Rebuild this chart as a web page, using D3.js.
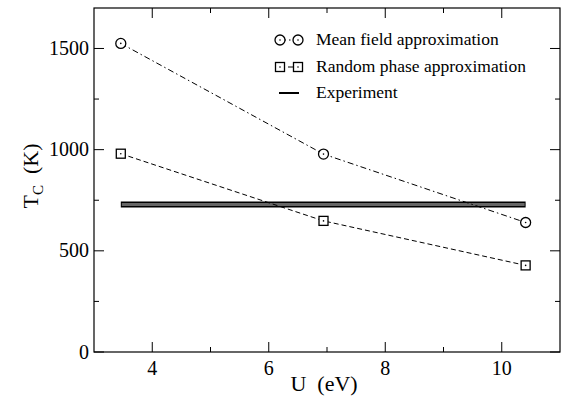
<!DOCTYPE html>
<html>
<head>
<meta charset="utf-8">
<script src="https://cdn.jsdelivr.net/npm/d3@7"></script>
<style>
  body { margin: 0; background: #fff; }
  svg text { white-space: pre; }
</style>
</head>
<body>
<svg width="562" height="398" font-family="'Liberation Serif', 'Times New Roman', Times, serif"></svg>
<script>
// data
var uValues = [3.46, 6.94, 10.41];
var meanField = [1525, 978, 640];
var randomPhase = [980, 648, 428];
var experiment = 729;
var xTicks = [4, 6, 8, 10];
var yTicks = [0, 500, 1000, 1500];

var svg = d3.select("svg"),
    margin = {left: 94, right: 2, top: 8, bottom: 46},
    width = +svg.attr("width") - margin.left - margin.right,
    height = +svg.attr("height") - margin.top - margin.bottom;

var x = d3.scaleLinear().domain([3, 11]).range([0, width]);
var y = d3.scaleLinear().domain([0, 1700]).range([height, 0]);

var g = svg.append("g").attr("transform", "translate(" + margin.left + "," + margin.top + ")");

// frame
g.append("rect")
    .attr("width", width).attr("height", height)
    .attr("fill", "none").attr("stroke", "#000").attr("stroke-width", 1.2);

// ticks, all pointing inward
function ticks(scale, majors, minors, side) {
  var t = g.append("g").attr("stroke", "#000").attr("stroke-width", 1);
  majors.forEach(function(v) { drawTick(t, scale(v), 10, side); });
  minors.forEach(function(v) { drawTick(t, scale(v), 5, side); });
}
function drawTick(t, p, len, side) {
  if (side == "bottom") t.append("line").attr("x1", p).attr("x2", p).attr("y1", height).attr("y2", height - len);
  if (side == "top") t.append("line").attr("x1", p).attr("x2", p).attr("y1", 0).attr("y2", len);
  if (side == "left") t.append("line").attr("y1", p).attr("y2", p).attr("x1", 0).attr("x2", len);
  if (side == "right") t.append("line").attr("y1", p).attr("y2", p).attr("x1", width).attr("x2", width - len);
}
ticks(x, xTicks, [5, 7, 9], "bottom");
ticks(x, xTicks, [5, 7, 9], "top");
ticks(y, yTicks, [250, 750, 1250], "left");
ticks(y, yTicks, [250, 750, 1250], "right");

g.selectAll(".xl").data(xTicks).enter().append("text")
    .attr("x", function(d) { return x(d); })
    .attr("y", height + 23)
    .attr("text-anchor", "middle")
    .style("font-size", "20px")
    .text(function(d) { return d; });

g.selectAll(".yl").data(yTicks).enter().append("text")
    .attr("x", -5)
    .attr("y", function(d) { return y(d) + 6.5; })
    .attr("text-anchor", "end")
    .style("font-size", "20px")
    .text(function(d) { return d; });

// axis titles
svg.append("text")
    .attr("x", margin.left + x(6.95)).attr("y", 391)
    .attr("text-anchor", "middle")
    .style("font-size", "22px")
    .text("U  (eV)");

var yt = svg.append("text")
    .attr("transform", "translate(38,176) rotate(-90)")
    .attr("text-anchor", "middle")
    .style("font-size", "22px");
yt.append("tspan").text("T");
yt.append("tspan").attr("dy", 5).style("font-size", "15px").text("C");
yt.append("tspan").attr("dy", -5).text("  (K)");

// experiment band
g.append("line")
    .attr("x1", x(uValues[0])).attr("x2", x(uValues[2]))
    .attr("y1", y(experiment)).attr("y2", y(experiment))
    .attr("stroke", "#000").attr("stroke-width", 6);
g.append("line")
    .attr("x1", x(uValues[0]) + 1).attr("x2", x(uValues[2]) - 1)
    .attr("y1", y(experiment)).attr("y2", y(experiment))
    .attr("stroke", "#666").attr("stroke-width", 3);

var line = d3.line()
    .x(function(d) { return x(d[0]); })
    .y(function(d) { return y(d[1]); });

var mf = uValues.map(function(u, i) { return [u, meanField[i]]; });
var rp = uValues.map(function(u, i) { return [u, randomPhase[i]]; });

g.append("path").datum(mf).attr("d", line)
    .attr("fill", "none").attr("stroke", "#000").attr("stroke-width", 1)
    .attr("stroke-dasharray", "6,3,1.5,3");
g.append("path").datum(rp).attr("d", line)
    .attr("fill", "none").attr("stroke", "#000").attr("stroke-width", 1)
    .attr("stroke-dasharray", "5,3");

function circleMark(sel, cx, cy) {
  sel.append("circle").attr("cx", cx).attr("cy", cy).attr("r", 5)
      .attr("fill", "#fff").attr("stroke", "#000").attr("stroke-width", 1.3);
  sel.append("circle").attr("cx", cx).attr("cy", cy).attr("r", 0.8).attr("fill", "#000");
}
function squareMark(sel, cx, cy) {
  sel.append("rect").attr("x", cx - 4.5).attr("y", cy - 4.5).attr("width", 9).attr("height", 9)
      .attr("fill", "#fff").attr("stroke", "#000").attr("stroke-width", 1.3);
  sel.append("circle").attr("cx", cx).attr("cy", cy).attr("r", 0.8).attr("fill", "#000");
}
mf.forEach(function(d) { circleMark(g, x(d[0]), y(d[1])); });
rp.forEach(function(d) { squareMark(g, x(d[0]), y(d[1])); });

// legend
var lg = svg.append("g");
var rows = [40, 67, 93];
lg.append("line").attr("x1", 280).attr("x2", 298).attr("y1", rows[0]).attr("y2", rows[0])
    .attr("stroke", "#000").attr("stroke-dasharray", "6,3,1.5,3");
circleMark(lg, 280, rows[0]); circleMark(lg, 298, rows[0]);
lg.append("line").attr("x1", 280).attr("x2", 298).attr("y1", rows[1]).attr("y2", rows[1])
    .attr("stroke", "#000").attr("stroke-dasharray", "5,3");
squareMark(lg, 280, rows[1]); squareMark(lg, 298, rows[1]);
lg.append("line").attr("x1", 279).attr("x2", 299).attr("y1", rows[2]).attr("y2", rows[2])
    .attr("stroke", "#000").attr("stroke-width", 2);
var names = ["Mean field approximation", "Random phase approximation", "Experiment"];
names.forEach(function(n, i) {
  lg.append("text").attr("x", 316).attr("y", rows[i] + 5).style("font-size", "17.5px").text(n);
});
</script>
</body>
</html>
